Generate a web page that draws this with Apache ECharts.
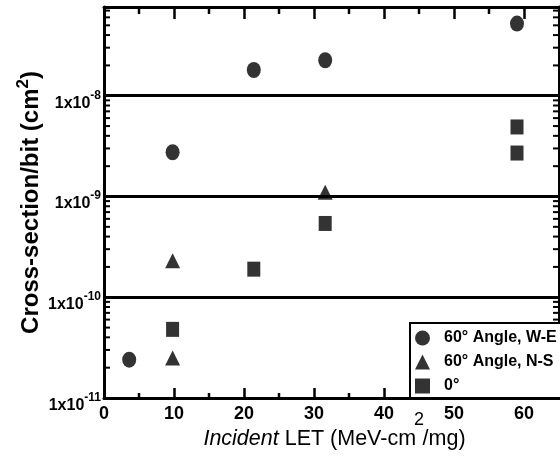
<!DOCTYPE html>
<html>
<head>
<meta charset="utf-8">
<script src="https://cdn.jsdelivr.net/npm/echarts@6/dist/echarts.min.js"></script>
<style>
  html, body { margin: 0; padding: 0; background: #fff; }
  #chart { width: 560px; height: 462px; }
</style>
</head>
<body>
<div id="chart"></div>
<script>
// Incident LET (MeV-cm2/mg) and measured cross-section per bit (cm2)
const weLET = [3.6, 9.8, 21.4, 31.6, 59.0];
const weSigma = [2.4e-11, 2.75e-9, 1.8e-8, 2.25e-8, 5.2e-8];

const nsLET = [9.8, 9.8, 31.6];
const nsSigma = [2.5e-11, 2.3e-10, 1.1e-9];

const zeroLET = [9.8, 21.4, 31.6, 59.0, 59.0];
const zeroSigma = [4.8e-11, 1.9e-10, 5.4e-10, 4.9e-9, 2.7e-9];

const seriesNames = ['60\u00b0 Angle, W-E', '60\u00b0 Angle, N-S', '0\u00b0'];

// Axis ranges and tick positions
const X_MIN = 0, X_MAX = 65;
const Y_MIN = 1e-11, Y_MAX = 7.6e-8;
const xMajorTicks = [0, 10, 20, 30, 40, 50, 60];
const xMinorTicks = [5, 15, 25, 35, 45, 55];
const yDecades = [1e-11, 1e-10, 1e-9, 1e-8];
const yMinorMultipliers = [2, 3, 4, 5, 6, 7, 8, 9];

const yMinorTicks = [];
yDecades.forEach(d => yMinorMultipliers.forEach(m => {
  const v = d * m;
  if (v < Y_MAX) yMinorTicks.push(v);
}));

const zip = (xs, ys) => xs.map((x, i) => [x, ys[i]]);

const FONT = 'Liberation Sans';
const TITLE_SIZE = 21.5;
const SUP_SIZE = 18;

// Run widths for the x-axis title; the runs around the superscript are
// tightened slightly so "cm", "2" and "/mg" sit close together.
const measureCtx = document.createElement('canvas').getContext('2d');
function runWidth(text, font) {
  measureCtx.font = font;
  return measureCtx.measureText(text).width;
}
const xTitleParts = ['Incident', ' LET (MeV-cm', '2', '/mg)'];
const xTitleWidths = [
  runWidth(xTitleParts[0], 'italic normal ' + TITLE_SIZE + 'px ' + FONT),
  runWidth(xTitleParts[1], 'normal normal ' + TITLE_SIZE + 'px ' + FONT) - 2,
  runWidth(xTitleParts[2], 'normal normal ' + SUP_SIZE + 'px ' + FONT) - 1.5,
  runWidth(xTitleParts[3], 'normal normal ' + TITLE_SIZE + 'px ' + FONT)
];

const chart = echarts.init(document.getElementById('chart'), null, { renderer: 'canvas' });

const option = {
  animation: false,
  backgroundColor: '#fff',
  textStyle: { fontFamily: FONT, color: '#000' },
  grid: { left: 104, right: 1, top: 7, bottom: 64, containLabel: false },
  legend: {
    data: seriesNames,
    orient: 'vertical',
    left: 410,
    top: 323,
    z: 10,
    padding: [7, 40, 4, 5],
    itemGap: 8,
    itemWidth: 15,
    itemHeight: 15,
    backgroundColor: '#fff',
    borderColor: '#000',
    borderWidth: 2,
    borderRadius: 0,
    textStyle: { fontFamily: FONT, fontSize: 16, fontWeight: 'bold', color: '#000', padding: [0, 0, 0, 9] },
    itemStyle: { color: '#000', borderWidth: 0 }
  },
  xAxis: [
    {
      type: 'value',
      position: 'bottom',
      min: X_MIN,
      max: X_MAX,
      interval: 10,
      name: '{i|' + xTitleParts[0] + '}{n1|' + xTitleParts[1] + '}{s|' + xTitleParts[2] + '}{n2|' + xTitleParts[3] + '}',
      nameLocation: 'middle',
      nameGap: 13,
      nameMoveOverlap: false,
      nameTextStyle: {
        lineHeight: 39,
        padding: [0, 0, 0, 6],
        rich: {
          i: { fontFamily: FONT, fontSize: TITLE_SIZE, fontWeight: 'normal', fontStyle: 'italic', width: xTitleWidths[0], align: 'left', verticalAlign: 'bottom', color: '#000' },
          n1: { fontFamily: FONT, fontSize: TITLE_SIZE, fontWeight: 'normal', width: xTitleWidths[1], align: 'left', verticalAlign: 'bottom', color: '#000' },
          s: { fontFamily: FONT, fontSize: SUP_SIZE, fontWeight: 'normal', width: xTitleWidths[2], align: 'left', verticalAlign: 'top', color: '#000' },
          n2: { fontFamily: FONT, fontSize: TITLE_SIZE, fontWeight: 'normal', width: xTitleWidths[3], align: 'left', verticalAlign: 'bottom', color: '#000' }
        }
      },
      axisLine: { show: true, onZero: false, lineStyle: { color: '#000', width: 3 } },
      axisTick: { show: true, inside: true, length: 10, customValues: xMajorTicks, lineStyle: { color: '#000', width: 2.5 } },
      axisLabel: {
        show: true, margin: 7, customValues: xMajorTicks,
        fontFamily: FONT, fontSize: 18, fontWeight: 'bold', color: '#000'
      },
      splitLine: { show: false }
    },
    {
      type: 'value',
      position: 'top',
      min: X_MIN,
      max: X_MAX,
      interval: 10,
      axisLine: { show: true, onZero: false, lineStyle: { color: '#000', width: 3 } },
      axisTick: { show: true, inside: true, length: 12, customValues: xMajorTicks, lineStyle: { color: '#000', width: 2.5 } },
      axisLabel: { show: false },
      splitLine: { show: false }
    }
  ],
  yAxis: [
    {
      type: 'log',
      logBase: 10,
      position: 'left',
      min: Y_MIN,
      max: Y_MAX,
      name: '{n|Cross-section/bit (cm}{s|2}{n|)}',
      nameLocation: 'middle',
      nameGap: 61,
      nameRotate: 90,
      nameMoveOverlap: false,
      nameTextStyle: {
        lineHeight: 28,
        rich: {
          n: { fontFamily: FONT, fontSize: 24, fontWeight: 'bold', verticalAlign: 'bottom', color: '#000' },
          s: { fontFamily: FONT, fontSize: 17, fontWeight: 'bold', verticalAlign: 'top', color: '#000' }
        }
      },
      axisLine: { show: true, onZero: false, lineStyle: { color: '#000', width: 3 } },
      axisTick: { show: false },
      axisLabel: {
        show: true,
        margin: 3,
        padding: [9, 0, 0, 0],
        formatter: function (v) {
          const lg = Math.log10(v);
          const e = Math.round(lg);
          if (Math.abs(lg - e) > 1e-6) return '';
          return '{b|1x10}{s|' + e + '}';
        },
        rich: {
          b: { fontFamily: FONT, fontSize: 16, fontWeight: 'bold', lineHeight: 16, verticalAlign: 'bottom', color: '#000' },
          s: { fontFamily: FONT, fontSize: 12, fontWeight: 'bold', lineHeight: 22, verticalAlign: 'top', color: '#000' }
        }
      },
      splitLine: { show: true, lineStyle: { color: '#000', width: 3 } }
    },
    {
      type: 'log',
      logBase: 10,
      position: 'right',
      min: Y_MIN,
      max: Y_MAX,
      axisLine: { show: true, onZero: false, lineStyle: { color: '#000', width: 3 } },
      axisTick: { show: false },
      axisLabel: { show: false },
      splitLine: { show: false }
    }
  ],
  series: [
    {
      name: seriesNames[0],
      type: 'scatter',
      symbol: 'circle',
      symbolSize: [14, 16],
      itemStyle: { color: '#000' },
      data: zip(weLET, weSigma),
      z: 5
    },
    {
      name: seriesNames[1],
      type: 'scatter',
      symbol: 'triangle',
      symbolSize: [15, 15],
      itemStyle: { color: '#000' },
      data: zip(nsLET, nsSigma),
      z: 5
    },
    {
      name: seriesNames[2],
      type: 'scatter',
      symbol: 'rect',
      symbolSize: [13, 15],
      itemStyle: { color: '#000' },
      data: zip(zeroLET, zeroSigma),
      z: 5
    },
    {
      // minor ticks of the log axis on the left and right frame edges
      type: 'custom',
      silent: true,
      clip: false,
      z: 1,
      data: yMinorTicks.map(v => [X_MIN, v]),
      renderItem: function (params, api) {
        const v = api.value(1);
        const l = api.coord([X_MIN, v]);
        const r = api.coord([X_MAX, v]);
        const st = { stroke: '#000', lineWidth: 2 };
        return {
          type: 'group',
          children: [
            { type: 'line', shape: { x1: l[0], y1: l[1], x2: l[0] + 6, y2: l[1] }, style: st },
            { type: 'line', shape: { x1: r[0] - 6, y1: r[1], x2: r[0], y2: r[1] }, style: st }
          ]
        };
      }
    },
    {
      // minor ticks on the bottom and top frame edges
      type: 'custom',
      silent: true,
      clip: false,
      z: 1,
      data: xMinorTicks.map(v => [v, Y_MIN]),
      renderItem: function (params, api) {
        const v = api.value(0);
        const b = api.coord([v, Y_MIN]);
        const t = api.coord([v, Y_MAX]);
        const st = { stroke: '#000', lineWidth: 2.5 };
        return {
          type: 'group',
          children: [
            { type: 'line', shape: { x1: b[0], y1: b[1], x2: b[0], y2: b[1] - 5 }, style: st },
            { type: 'line', shape: { x1: t[0], y1: t[1], x2: t[0], y2: t[1] + 7 }, style: st }
          ]
        };
      }
    }
  ]
};

chart.setOption(option);
</script>
</body>
</html>
